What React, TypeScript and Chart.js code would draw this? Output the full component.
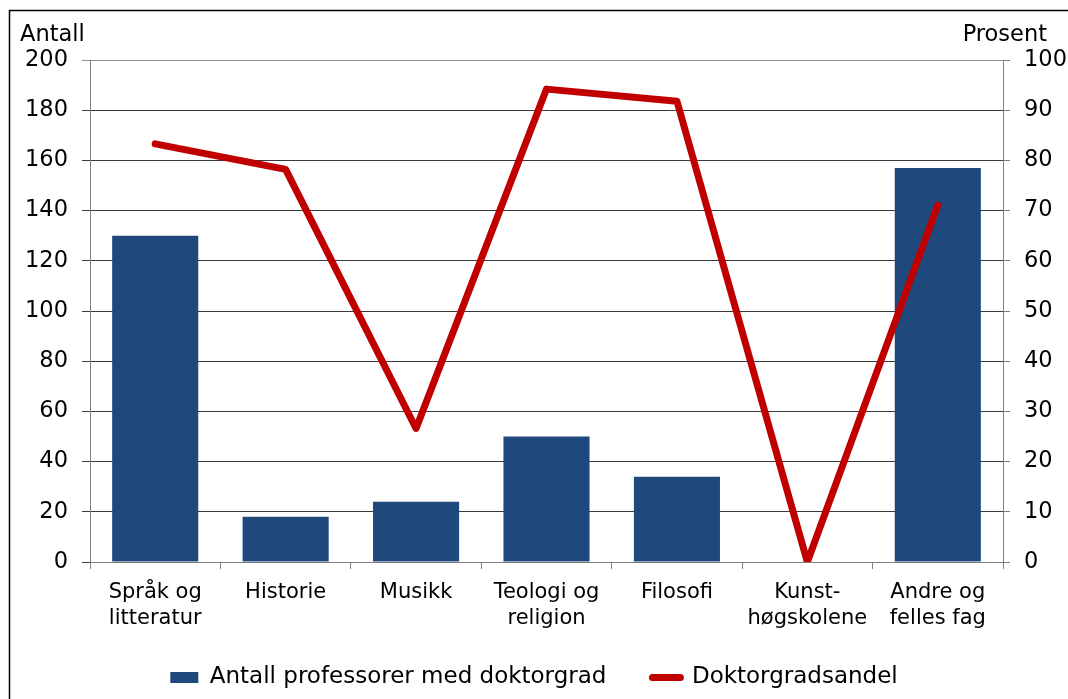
import React, { useEffect, useRef } from 'react';
import { Chart, registerables } from 'chart.js';

Chart.register(...registerables);

const categories: string[][] = [
  ['Språk og', 'litteratur'],
  ['Historie'],
  ['Musikk'],
  ['Teologi og', 'religion'],
  ['Filosofi'],
  ['Kunst-', 'høgskolene'],
  ['Andre og', 'felles fag'],
];
const professorCounts = [130, 18, 24, 50, 34, 0, 157];
const doctorShare = [83.3, 78.2, 26.6, 94.2, 91.8, 0, 71.1];
const seriesNames = ['Antall professorer med doktorgrad', 'Doktorgradsandel'];
const leftAxisTitle = 'Antall';
const rightAxisTitle = 'Prosent';

const FONT = '"DejaVu Sans", Verdana, sans-serif';
const BAR_COLOR = '#1F497D';
const LINE_COLOR = '#C00000';

const decorPlugin = {
  id: 'decor',
  afterDraw(chart: any) {
    const ctx = chart.ctx;
    ctx.save();
    ctx.strokeStyle = '#000';
    ctx.lineWidth = 1.5;
    ctx.beginPath();
    ctx.moveTo(9.5, 699);
    ctx.lineTo(9.5, 10.5);
    ctx.lineTo(1068, 10.5);
    ctx.stroke();
    ctx.fillStyle = '#000';
    ctx.font = `22.5px ${FONT}`;
    ctx.textBaseline = 'alphabetic';
    ctx.textAlign = 'left';
    ctx.fillText(leftAxisTitle, 20, 41);
    ctx.textAlign = 'right';
    ctx.fillText(rightAxisTitle, 1047, 41);
    ctx.restore();
  },
};

export default function App() {
  const ref = useRef<HTMLCanvasElement>(null);
  useEffect(() => {
    if (!ref.current) return;
    const chart = new Chart(ref.current, {
      type: 'bar',
      data: {
        labels: categories,
        datasets: [
          {
            type: 'bar',
            label: seriesNames[0],
            data: professorCounts,
            backgroundColor: BAR_COLOR,
            borderWidth: 0,
            barPercentage: 0.66,
            categoryPercentage: 1,
            yAxisID: 'y',
            order: 1,
            pointStyle: 'rect',
          } as any,
          {
            type: 'line',
            label: seriesNames[1],
            data: doctorShare,
            borderColor: LINE_COLOR,
            backgroundColor: LINE_COLOR,
            borderWidth: 7,
            pointRadius: 0,
            borderJoinStyle: 'round',
            borderCapStyle: 'round',
            tension: 0,
            yAxisID: 'y1',
            order: 0,
            pointStyle: 'line',
          } as any,
        ],
      },
      options: {
        responsive: false,
        animation: false,
        layout: { padding: { top: 60, left: 0, right: 0, bottom: 0 } },
        plugins: {
          tooltip: { enabled: false },
          legend: {
            position: 'bottom',
            labels: {
              usePointStyle: true,
              pointStyleWidth: 28,
              boxHeight: 11,
              padding: 46,
              color: '#000',
              font: { family: FONT, size: 23 },
              sort: (a: any, b: any) => a.datasetIndex - b.datasetIndex,
              generateLabels: (chart: any) => {
                const items = Chart.defaults.plugins.legend.labels.generateLabels(chart);
                return items.map((it: any) => {
                  if (it.datasetIndex === 1) {
                    return { ...it, pointStyle: 'line', lineWidth: 7, strokeStyle: LINE_COLOR, fillStyle: LINE_COLOR, lineCap: 'round' };
                  }
                  return { ...it, pointStyle: 'rect', lineWidth: 0, fillStyle: BAR_COLOR, strokeStyle: BAR_COLOR };
                });
              },
            },
          },
        },
        scales: {
          x: {
            grid: {
              offset: true,
              drawOnChartArea: false,
              drawTicks: true,
              tickLength: 7,
              color: '#808080',
            },
            border: { color: '#808080', width: 1 },
            ticks: {
              color: '#000',
              font: { family: FONT, size: 21, lineHeight: 1.25 },
              padding: 10,
              maxRotation: 0,
              autoSkip: false,
            },
            afterFit: (s: any) => {
              s.height = 58;
              s._computeLabelArea = () => undefined;
            },
          },
          y: {
            position: 'left',
            min: 0,
            max: 200,
            ticks: {
              stepSize: 20,
              color: '#000',
              font: { family: FONT, size: 22.5 },
              padding: 14,
            },
            grid: {
              color: (c: any) => (c.tick && (c.tick.value === 200) ? '#909090' : '#3a3a3a'),
              tickLength: 8,
              drawTicks: true,
            },
            border: { color: '#808080', width: 1 },
            afterFit: (s: any) => { s.width = 90; },
          },
          y1: {
            position: 'right',
            min: 0,
            max: 100,
            ticks: {
              stepSize: 10,
              color: '#000',
              font: { family: FONT, size: 22.5 },
              padding: 14,
            },
            grid: {
              drawOnChartArea: false,
              tickLength: 7,
              drawTicks: true,
              color: '#808080',
            },
            border: { color: '#808080', width: 1 },
            afterFit: (s: any) => { s.width = 65; },
          },
        },
      },
      plugins: [decorPlugin],
    });
    return () => chart.destroy();
  }, []);

  return (
    <div style={{ position: 'absolute', left: 0, top: 0, width: 1068, height: 699, background: '#fff', overflow: 'hidden' }}>
      <canvas ref={ref} width={1068} height={699} style={{ display: 'block' }} />
    </div>
  );
}
